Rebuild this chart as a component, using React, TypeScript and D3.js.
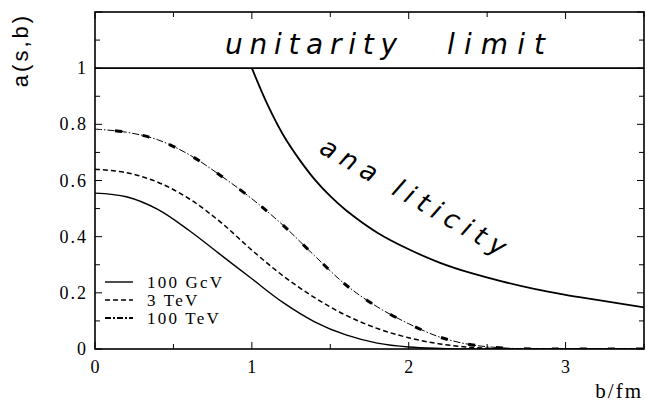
import React from "react";
import * as d3 from "d3";

// Impact parameter grid (fm) for the profile curves
const bValues = [0, 0.2, 0.4, 0.6, 0.8, 1.0, 1.2, 1.4, 1.6, 1.8, 2.0, 2.2, 2.4, 2.6, 2.8, 3.0, 3.5];
// a(s,b) profiles at three energies
const aGeV100 = [0.555, 0.542, 0.497, 0.422, 0.336, 0.25, 0.165, 0.097, 0.05, 0.021, 0.007, 0.002, 0, 0, 0, 0, 0];
const aTeV3 = [0.64, 0.628, 0.594, 0.535, 0.452, 0.352, 0.26, 0.183, 0.12, 0.073, 0.04, 0.018, 0.006, 0.001, 0, 0, 0];
const aTeV100 = [0.783, 0.772, 0.745, 0.692, 0.618, 0.535, 0.44, 0.332, 0.228, 0.15, 0.09, 0.042, 0.015, 0.004, 0, 0, 0];

// Analyticity bound
const bBound = [1.0, 1.1, 1.2, 1.3, 1.4, 1.5, 1.6, 1.8, 2.0, 2.2, 2.4, 2.6, 2.8, 3.0, 3.2, 3.5];
const aBound = [1.0, 0.87, 0.762, 0.677, 0.604, 0.544, 0.494, 0.414, 0.355, 0.307, 0.27, 0.24, 0.214, 0.193, 0.175, 0.148];

const xTickLabels = ["0", "1", "2", "3"];
const yTickLabels = ["0", "0.2", "0.4", "0.6", "0.8", "1"];
const legendLabels = ["100 GcV", "3 TeV", "100 TeV"];

const W = 647;
const H = 403;
const left = 95;
const right = 644;
const top = 12;
const bottom = 349;

export default function App() {
  const x = d3.scaleLinear().domain([0, 3.5]).range([left, right]);
  const y = d3.scaleLinear().domain([0, 1.2]).range([bottom, top]);

  const line = d3
    .line<[number, number]>()
    .x((d) => x(d[0]))
    .y((d) => y(Math.max(0, d[1])))
    .curve(d3.curveCatmullRom.alpha(0.5));

  const pts = (ys: number[], xs: number[] = bValues) =>
    xs.map((b, i) => [b, ys[i]] as [number, number]);

  const serif = "'Liberation Serif', 'DejaVu Serif', serif";
  const hand = "'DejaVu Sans', sans-serif";

  const minorY = d3.range(0, 1.2001, 0.1);
  const minorX = d3.range(0, 3.5001, 0.5);

  const legendY = [282, 300, 318];
  const legendStyles = [
    { dash: undefined as string | undefined, w: 1.4 },
    { dash: "5 3", w: 1.5 },
    { dash: "6 2 2 2", w: 2.2 },
  ];

  return (
    <svg width={W} height={H} style={{ display: "block", position: "absolute", left: 0, top: 0, background: "#fff" }}>
      <rect x={0} y={0} width={W} height={H} fill="#fff" />

      <defs>
        <clipPath id="plotArea">
          <rect x={left} y={top} width={right - left} height={bottom - top} />
        </clipPath>
      </defs>

      {/* frame */}
      <rect x={left} y={top} width={right - left} height={bottom - top} fill="none" stroke="#000" strokeWidth={1.6} />

      {/* y ticks on both sides */}
      {minorY.map((v, i) => {
        const major = i % 2 === 0;
        const len = major ? 7 : 5;
        return (
          <g key={"yt" + i}>
            <line x1={left} x2={left + len} y1={y(v)} y2={y(v)} stroke="#000" strokeWidth={1} />
            <line x1={right} x2={right - len} y1={y(v)} y2={y(v)} stroke="#000" strokeWidth={1} />
          </g>
        );
      })}
      {/* x ticks on bottom and top */}
      {minorX.map((v, i) => {
        const major = i % 2 === 0;
        const len = major ? 7 : 5;
        return (
          <g key={"xt" + i}>
            <line x1={x(v)} x2={x(v)} y1={bottom} y2={bottom - len} stroke="#000" strokeWidth={1} />
            <line x1={x(v)} x2={x(v)} y1={top} y2={top + len} stroke="#000" strokeWidth={1} />
          </g>
        );
      })}

      {/* tick labels */}
      {yTickLabels.map((t, i) => (
        <text
          key={"yl" + i}
          x={left - 7}
          y={y(i * 0.2) + 6}
          textAnchor="end"
          fontFamily={serif}
          fontSize={18}
          letterSpacing={2}
          fill="#000"
        >
          {t}
        </text>
      ))}
      {xTickLabels.map((t, i) => (
        <text
          key={"xl" + i}
          x={x(i)}
          y={373}
          textAnchor="middle"
          fontFamily={serif}
          fontSize={18}
          fill="#000"
        >
          {t}
        </text>
      ))}

      {/* axis titles */}
      <text
        transform="translate(28,50) rotate(-90)"
        textAnchor="middle"
        fontFamily="'Liberation Sans', sans-serif"
        fontSize={22}
        letterSpacing={3}
        fill="#000"
      >
        a(s,b)
      </text>
      <text x={643} y={398} textAnchor="end" fontFamily={serif} fontSize={21} letterSpacing={2} fill="#000">
        b/fm
      </text>

      {/* unitarity limit */}
      <line x1={left} x2={right} y1={y(1)} y2={y(1)} stroke="#000" strokeWidth={1.6} />
      <text x={225} y={54} fontFamily={hand} fontSize={28} fontStyle="italic" textLength={172} lengthAdjust="spacing" fill="#000">
        unitarity
      </text>
      <text x={447} y={54} fontFamily={hand} fontSize={28} fontStyle="italic" textLength={98} lengthAdjust="spacing" fill="#000">
        limit
      </text>

      {/* analyticity bound */}
      <path d={line(pts(aBound, bBound)) ?? ""} fill="none" stroke="#000" strokeWidth={1.8} />
      <text
        transform="translate(318,152) rotate(30)"
        fontFamily={hand}
        fontSize={26}
        fontStyle="italic"
        textLength={210}
        lengthAdjust="spacing"
        fill="#000"
      >
        ana liticity
      </text>

      {/* energy profiles */}
      <g clipPath="url(#plotArea)">
        <path d={line(pts(aGeV100)) ?? ""} fill="none" stroke="#000" strokeWidth={1.4} />
        <path d={line(pts(aTeV3)) ?? ""} fill="none" stroke="#000" strokeWidth={1.5} strokeDasharray="5 3" />
        <path d={line(pts(aTeV100)) ?? ""} fill="none" stroke="#000" strokeWidth={1} strokeDasharray="7 2 1.5 2" />
        <path d={line(pts(aTeV100)) ?? ""} fill="none" stroke="#000" strokeWidth={3} strokeDasharray="7 21" strokeDashoffset={-20} />
      </g>

      {/* legend */}
      {legendLabels.map((t, i) => (
        <g key={"lg" + i}>
          <line
            x1={105}
            x2={133}
            y1={legendY[i]}
            y2={legendY[i]}
            stroke="#000"
            strokeWidth={legendStyles[i].w}
            strokeDasharray={legendStyles[i].dash}
          />
          <text x={147} y={legendY[i] + 6} fontFamily={serif} fontSize={17} letterSpacing={2.2} fill="#000">
            {t}
          </text>
        </g>
      ))}
    </svg>
  );
}
